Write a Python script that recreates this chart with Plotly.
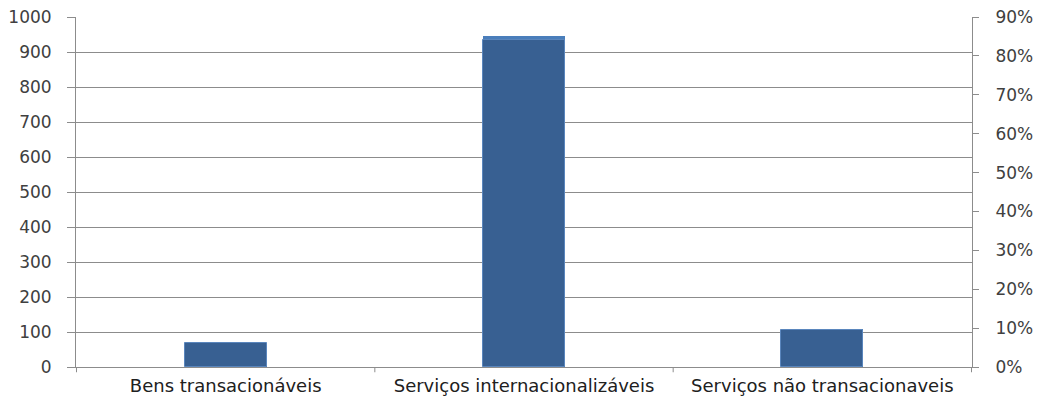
import plotly.graph_objects as go

# Categories and values
categories = ["Bens transacionáveis", "Serviços internacionalizáveis", "Serviços não transacionaveis"]
values = [69, 945, 108]            # left axis (absolute)
shares = [0.062, 0.842, 0.096]     # right axis (share of total)

left_ticks = list(range(0, 1001, 100))
right_ticks = [i / 10 for i in range(0, 10)]
right_labels = [f"{i * 10}%" for i in range(0, 10)]

grid = "#8c8c8c"
tick_font = dict(family="DejaVu Sans", size=17, color="#404040")

fig = go.Figure()

fig.add_trace(go.Bar(
    x=categories, y=values, name="Valor",
    marker=dict(color="#4a7ebb", line=dict(width=0)),
    width=0.275, yaxis="y", offsetgroup="a",
))
fig.add_trace(go.Bar(
    x=categories, y=shares, name="Peso",
    marker=dict(color="#386092", line=dict(color="#5a86bd", width=1)),
    width=0.275, yaxis="y2", offsetgroup="a",
))

fig.update_layout(
    width=1039, height=396,
    margin=dict(l=76, r=67, t=17, b=29),
    paper_bgcolor="white", plot_bgcolor="white",
    showlegend=False, barmode="overlay", bargap=0,
    xaxis=dict(
        showgrid=False, showline=True, linecolor=grid, linewidth=1,
        ticks="", tickfont=dict(family="DejaVu Sans", size=18, color="#202020"),
        ticklabelstandoff=2, automargin=False,
    ),
    yaxis=dict(
        range=[0, 1000], tickvals=left_ticks,
        showgrid=True, gridcolor=grid, gridwidth=1,
        showline=True, linecolor=grid, linewidth=1,
        ticks="outside", ticklen=8, tickcolor=grid,
        tickfont=tick_font, zeroline=False,
        ticklabelstandoff=12, automargin=False,
    ),
    yaxis2=dict(
        range=[0, 0.9], tickvals=right_ticks, ticktext=right_labels,
        overlaying="y", side="right", showgrid=False,
        showline=True, linecolor=grid, linewidth=1,
        ticks="outside", ticklen=6, tickcolor=grid,
        tickfont=tick_font, zeroline=False,
        ticklabelstandoff=13, automargin=False,
    ),
)

# Category divider ticks along the bottom axis
for i in range(len(categories) + 1):
    fig.add_shape(
        type="line", xref="x", yref="paper",
        x0=i - 0.5, x1=i - 0.5, y0=0, y1=-0.015,
        line=dict(color=grid, width=1),
    )

fig.write_html("out.html")
